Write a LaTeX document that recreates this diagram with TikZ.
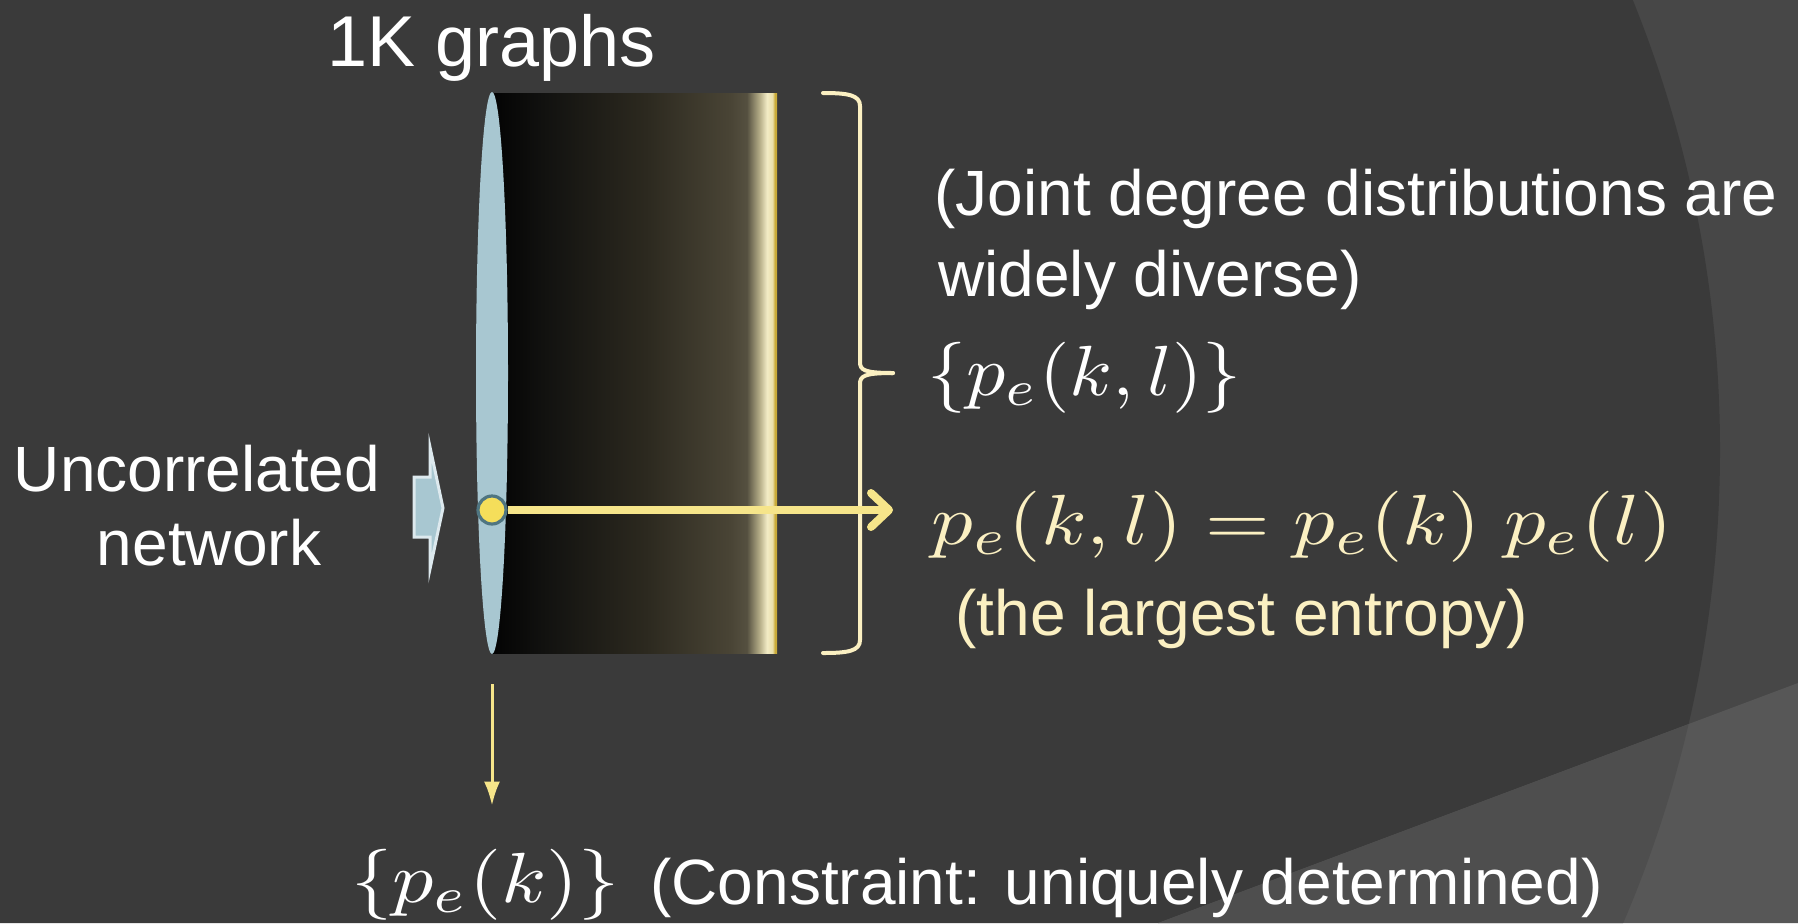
\documentclass[tikz,border=0pt]{standalone}
\usepackage[no-math]{fontspec}
\setmainfont{Liberation Sans}
\usepackage{graphicx}
\usetikzlibrary{arrows.meta,shapes.geometric}
\definecolor{bgdark}{HTML}{3A3A3A}
\definecolor{bgtex}{HTML}{474747}
\definecolor{bgwedgein}{HTML}{4E4E4E}
\definecolor{bgwedgeout}{HTML}{575757}
\definecolor{cream}{HTML}{FBF0C2}
\definecolor{arrowyel}{HTML}{F6E58A}
\definecolor{ellblue}{HTML}{A8C7D1}
\definecolor{ellline}{HTML}{DDE9EE}
\definecolor{dotfill}{HTML}{F5DE5A}
\definecolor{dotline}{HTML}{4F7581}
\definecolor{gA}{HTML}{030303}
\definecolor{gB}{HTML}{121210}
\definecolor{gC}{HTML}{2C291F}
\definecolor{gD}{HTML}{494435}
\definecolor{gE}{HTML}{555040}
\definecolor{gF}{HTML}{B8B08A}
\definecolor{gG}{HTML}{F3ECC6}
\definecolor{gH}{HTML}{EADFAA}
\definecolor{gI}{HTML}{C9AB3A}
\pgfdeclarehorizontalshading{cylshade}{100bp}{color(0bp)=(gA); color(25bp)=(gA); color(34.5bp)=(gB); color(52bp)=(gC); color(66.75bp)=(gD); color(69.7bp)=(gE); color(72bp)=(gF); color(73.25bp)=(gG); color(74.2bp)=(gH); color(74.6bp)=(gI); color(75bp)=(gI); color(100bp)=(gI)}
\tikzset{
  bodytext/.style={inner sep=0pt, anchor=base west, font=\fontsize{32}{38}\selectfont},
  mathbox/.style={inner sep=0pt, anchor=west},
  yelarrow/.style={draw=arrowyel},
  bracepath/.style={draw=cream, line width=2pt, line cap=round, line join=round},
  dotstyle/.style={circle, fill=dotfill, draw=dotline, line width=1.6pt, minimum size=14pt, inner sep=0pt}
}
\begin{document}
\begin{tikzpicture}[x=0.5pt, y=-0.5pt]
\useasboundingbox (0,0) rectangle (1798,923);
% background
\fill[bgtex] (0,0) rectangle (1798,923);
\fill[bgwedgeout] (1798,683) -- (1158,923) -- (1798,923) -- cycle;
\begin{scope}
  \clip (520,450) circle[radius=600pt];
  \fill[bgdark] (0,0) -- (1798,0) -- (1798,683) -- (1158,923) -- (0,923) -- cycle;
  \fill[bgwedgein] (1798,683) -- (1158,923) -- (1798,923) -- cycle;
\end{scope}

% cylinder body
\path[shading=cylshade] (492,93) rectangle (777,653);
\node[ellipse, fill=ellblue, minimum width=16pt, minimum height=281pt, inner sep=0pt] (ell) at (492,373) {};

% block arrow
\draw[draw=ellline, fill=ellblue, line width=1.5pt, line join=miter]
  (414,477) -- (430,477) -- (430,447) -- (443,508) -- (430,569) -- (430,537) -- (414,537) -- cycle;

% brace
\draw[bracepath] (823,93) .. controls (848,93) and (860,95) .. (860,106) -- (860,362)
  .. controls (860,370) and (864,373) .. (893,373);
\draw[bracepath] (893,373) .. controls (864,373) and (860,376) .. (860,384) -- (860,640)
  .. controls (860,651) and (848,653) .. (823,653);

% dot and horizontal arrow
\node[dotstyle] (dot) at (492,510) {};
\coordinate (hend) at (893,510);
\draw[yelarrow, line width=4pt, -{Straight Barb[length=9pt, width=17pt, round]}] (dot.east) -- (hend);

% texts
\node[inner sep=0pt, anchor=base, text=white, font=\fontsize{36}{42}\selectfont] (title) at (492,66) {1K graphs};
\node[inner sep=0pt, anchor=base, text=white, font=\fontsize{32}{38}\selectfont] (unc) at (197,491) {Uncorrelated};
\node[inner sep=0pt, anchor=base, text=white, font=\fontsize{32}{38}\selectfont] (net) at (209,565) {network};
\node[bodytext, text=white] (joint1) at (934,215) {(Joint degree distributions are};
\node[bodytext, text=white] (joint2) at (938,296) {widely diverse)};
\node[bodytext, text=cream] (entropy) at (955,635) {(the largest entropy)};
\node[bodytext, text=white] (constr) at (650,904) {(Constraint: uniquely determined)};

\node[mathbox, text=white] (pekl) at (927,377.5) {\resizebox*{157pt}{35.5pt}{$\{p_e(k,l)\}$}};
\node[mathbox, text=cream] (eq) at (931,526.5) {\resizebox*{370.5pt}{35.5pt}{$p_e(k,l)=p_e(k)\;p_e(l)$}};
\node[mathbox, text=white] (pek) at (351,884.5) {\resizebox*{134pt}{35.5pt}{$\{p_e(k)\}$}};

% down arrow
\draw[yelarrow, line width=1.5pt, -{Latex[length=12pt, width=8pt]}, shorten <=15pt, shorten >=21.5pt]
  (ell.south) -- (ell.south |- pek.north);
\end{tikzpicture}
\end{document}
